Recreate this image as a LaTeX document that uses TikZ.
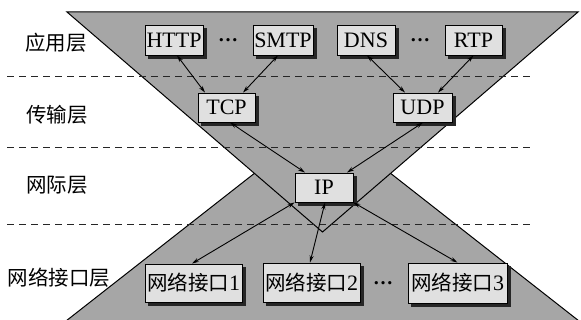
\documentclass[tikz,border=0pt]{standalone}
\usepackage{fontspec}
\setmainfont{Liberation Serif}
\newfontfamily\cjk{Noto Sans CJK SC}
\usetikzlibrary{arrows.meta,shadows}
\begin{document}
\begin{tikzpicture}[x=1pt,y=-1pt,
  tri/.style={fill=black!35,draw=black,line width=1pt,line join=miter},
  sep/.style={draw=black!85,line width=1pt,dash pattern=on 7pt off 5pt},
  proto/.style={draw=black,line width=0.9pt,fill=black!12,inner sep=0pt,
    minimum height=30pt,font=\fontsize{22}{24}\selectfont,
    copy shadow={shadow xshift=3.5pt,shadow yshift=-3.5pt,fill=black!85,draw=black!85}},
  layer/.style={font=\cjk\fontsize{20.5}{22}\selectfont,anchor=center},
  dots/.style={font=\bfseries\fontsize{20}{24}\selectfont},
  link/.style={line width=0.9pt,{Stealth[length=7pt,width=4pt]}-{Stealth[length=7pt,width=4pt]}}
]
\useasboundingbox (0,0) rectangle (581,320);
% triangles
\filldraw[tri] (66,321) -- (322.5,120) -- (579,321) -- cycle;
\filldraw[tri] (67,12) -- (578,12) -- (322.5,232) -- cycle;
% layer separators
\draw[sep] (7,77) -- (531,77);
\draw[sep] (7,148) -- (531,148);
\draw[sep] (7,225) -- (531,225);
% layer labels
\node[layer] (l1) at (56,43) {应用层};
\node[layer] (l2) at (57,115) {传输层};
\node[layer] (l3) at (57,185) {网际层};
\node[layer] (l4) at (59,278) {网络接口层};
% protocol boxes
\node[proto,minimum width=58pt] (http) at (174,40) {HTTP};
\node[proto,minimum width=60pt] (smtp) at (283,40) {SMTP};
\node[proto,minimum width=58pt] (dns) at (366,40) {DNS};
\node[proto,minimum width=57pt] (rtp) at (473.5,40) {RTP};
\node[dots] (d1) at (228,40) {…};
\node[dots] (d2) at (420,40) {…};
\node[proto,minimum width=57pt,minimum height=29pt] (tcp) at (226.5,107.5) {TCP};
\node[proto,minimum width=59pt,minimum height=29pt] (udp) at (422.5,107.5) {UDP};
\node[proto,minimum width=58pt,minimum height=29pt] (ip) at (324,187.5) {IP};
\node[proto,minimum width=97pt,minimum height=38pt] (n1) at (193.5,283) {{\cjk\fontsize{20.5}{24}\selectfont 网络接口}1};
\node[proto,minimum width=97pt,minimum height=39pt] (n2) at (311.5,282.5) {{\cjk\fontsize{20.5}{24}\selectfont 网络接口}2};
\node[proto,minimum width=99pt,minimum height=40pt] (n3) at (457.5,283) {{\cjk\fontsize{20.5}{24}\selectfont 网络接口}3};
\node[dots] (d3) at (383,283) {…};
% links
\draw[link] ([xshift=3pt]http.south) -- ([xshift=-21.5pt]tcp.north);
\draw[link] ([xshift=-5pt]smtp.south) -- ([xshift=16.5pt]tcp.north);
\draw[link] ([xshift=1pt]dns.south) -- ([xshift=-17.5pt]udp.north);
\draw[link] (rtp.south) -- ([xshift=15.5pt]udp.north);
\draw[link] ([xshift=3.5pt]tcp.south) -- ([xshift=-19pt]ip.north);
\draw[link] ([xshift=0.5pt]udp.south) -- ([xshift=23pt]ip.north);
\draw[link] (ip.south west) -- ([xshift=-1.5pt]n1.north);
\draw[link] ([xshift=1pt]ip.south) -- ([xshift=-1.5pt]n2.north);
\draw[link] (ip.south east) -- (n3.north);
\end{tikzpicture}
\end{document}
